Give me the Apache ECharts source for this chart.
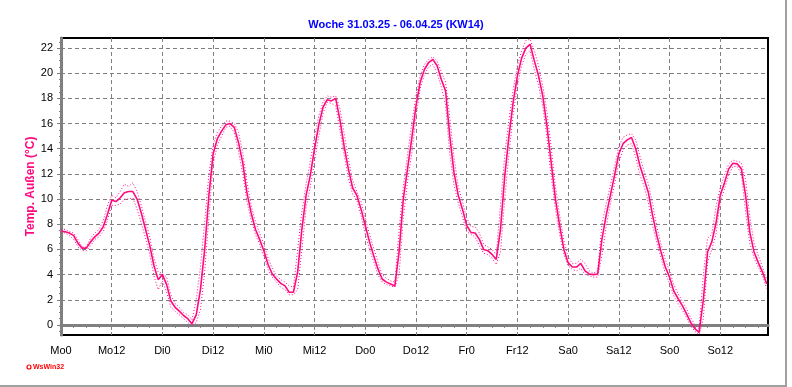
<!DOCTYPE html>
<html>
<head>
<meta charset="utf-8">
<script src="https://cdn.jsdelivr.net/npm/echarts@6/dist/echarts.min.js"></script>
<style>
  html, body { margin: 0; padding: 0; background: #fff; }
  #chart { width: 792px; height: 387px; }
</style>
</head>
<body>
<div id="chart"></div>
<script>
  // hourly values, Mo 0:00 .. So 23:00
  var tempMean = [
    7.45, 7.4, 7.3, 7.1, 6.5, 6.1, 6.1, 6.6, 7.0, 7.3, 7.8, 8.8,
    9.9, 9.8, 10.1, 10.5, 10.6, 10.6, 10.0, 8.9, 7.6, 6.3, 4.7, 3.6,
    4.0, 3.2, 1.9, 1.4, 1.1, 0.75, 0.5, 0.1, 0.8, 2.8, 6.0, 10.3,
    13.6, 14.8, 15.4, 15.9, 16.0, 15.7, 14.5, 12.9, 10.5, 8.9, 7.6, 6.8,
    5.9, 4.8, 4.05, 3.65, 3.3, 3.1, 2.6, 2.6, 4.2, 7.6, 10.3, 11.9,
    14.0, 15.9, 17.3, 17.9, 17.8, 18.0, 16.3, 14.2, 12.4, 10.9, 10.3, 9.2,
    7.9, 6.6, 5.5, 4.45, 3.65, 3.4, 3.25, 3.1, 5.8, 10.0, 12.4, 14.8,
    17.4, 19.3, 20.3, 20.85, 21.1, 20.6, 19.5, 18.6, 15.0, 12.1, 10.3, 9.2,
    7.9, 7.35, 7.3, 6.8, 6.0, 5.9, 5.6, 5.2, 7.6, 11.8, 15.0, 17.7,
    19.8, 21.2, 22.0, 22.3, 21.0, 19.8, 18.2, 15.8, 12.9, 10.0, 7.9, 6.0,
    4.95, 4.6, 4.6, 4.9, 4.3, 4.05, 4.0, 4.05, 6.8, 8.7, 10.3, 11.9,
    13.6, 14.4, 14.7, 14.9, 14.0, 12.65, 11.6, 10.5, 8.7, 7.1, 5.8, 4.6,
    3.8, 2.7, 2.1, 1.55, 0.9, 0.2, -0.3, -0.6, 2.0, 5.8, 6.6, 8.1,
    10.3, 11.3, 12.4, 12.85, 12.8, 12.4, 10.3, 7.35, 5.8, 4.95, 4.2, 3.25
  ];
  var tempMax = [
    7.6, 7.6, 7.4, 7.3, 6.8, 6.2, 6.2, 6.9, 7.3, 7.6, 8.3, 9.5,
    10.3, 10.1, 10.6, 11.2, 11.0, 11.3, 10.6, 9.5, 8.2, 7.0, 5.3, 4.2,
    4.1, 3.8, 2.4, 1.7, 1.4, 1.0, 0.8, 0.4, 2.0, 4.6, 8.2, 12.0,
    14.3, 15.3, 15.8, 16.2, 16.2, 16.0, 15.3, 13.7, 11.4, 9.5, 8.2, 7.3,
    6.4, 5.3, 4.5, 3.9, 3.6, 3.4, 3.1, 3.0, 6.0, 9.0, 11.2, 13.0,
    15.0, 16.6, 17.7, 18.2, 18.1, 18.2, 17.2, 15.2, 13.2, 11.5, 10.6, 9.8,
    8.5, 7.2, 6.1, 5.0, 4.0, 3.7, 3.5, 3.4, 7.5, 11.0, 13.5, 16.0,
    18.2, 19.8, 20.7, 21.1, 21.3, 21.0, 20.1, 19.3, 16.5, 13.3, 11.0, 9.8,
    8.5, 7.8, 7.8, 7.3, 6.4, 6.2, 6.0, 5.6, 9.5, 13.5, 16.3, 18.7,
    20.6, 21.8, 22.6, 22.7, 21.8, 20.6, 19.0, 16.9, 14.1, 11.0, 8.7, 6.7,
    5.4, 4.9, 4.9, 5.2, 4.9, 4.3, 4.1, 4.3, 8.0, 9.6, 11.1, 12.6,
    14.2, 14.9, 15.1, 15.2, 14.7, 13.4, 12.2, 11.2, 9.6, 7.8, 6.4, 5.2,
    4.3, 3.2, 2.5, 1.9, 1.3, 0.6, 0.0, -0.3, 4.0, 6.9, 7.2, 9.4,
    10.9, 11.9, 12.8, 13.1, 13.0, 12.9, 11.5, 8.6, 6.5, 5.5, 4.6, 3.6
  ];
  var tempMin = [
    7.4, 7.3, 7.1, 6.8, 6.2, 5.9, 5.9, 6.3, 6.8, 7.0, 7.4, 8.3,
    9.5, 9.5, 9.6, 10.0, 10.0, 10.1, 9.2, 8.1, 6.9, 5.6, 3.9, 2.8,
    3.5, 2.6, 1.4, 1.1, 0.8, 0.5, 0.2, -0.1, 0.2, 1.2, 4.2, 8.6,
    12.8, 14.3, 15.0, 15.7, 15.8, 15.3, 13.8, 12.0, 9.8, 8.3, 7.2, 6.4,
    5.4, 4.4, 3.8, 3.4, 3.0, 2.8, 2.4, 2.4, 2.8, 6.0, 9.3, 11.0,
    13.0, 15.0, 16.8, 17.7, 17.6, 17.4, 15.5, 13.5, 11.7, 10.4, 9.9, 8.7,
    7.2, 6.0, 5.0, 4.0, 3.4, 3.2, 3.1, 3.0, 4.0, 8.5, 11.4, 13.6,
    16.5, 18.8, 19.9, 20.5, 20.7, 20.0, 18.9, 17.5, 13.6, 11.1, 9.7, 8.6,
    7.4, 7.2, 7.0, 6.3, 5.7, 5.6, 5.3, 4.8, 5.8, 10.0, 13.6, 16.7,
    19.0, 20.6, 21.5, 21.8, 20.3, 19.0, 17.4, 14.8, 11.8, 9.2, 7.2, 5.6,
    4.7, 4.4, 4.3, 4.5, 4.0, 3.9, 3.8, 3.8, 5.5, 7.8, 9.6, 11.2,
    12.9, 13.9, 14.3, 14.4, 13.3, 11.9, 11.0, 9.7, 7.9, 6.5, 5.3, 4.1,
    3.3, 2.3, 1.7, 1.2, 0.6, -0.1, -0.5, -0.8, 0.5, 5.0, 6.0, 7.2,
    9.8, 10.8, 11.9, 12.6, 12.6, 12.0, 9.0, 6.5, 5.3, 4.6, 3.9, 2.9
  ];
  var xTickHours = [0, 12, 24, 36, 48, 60, 72, 84, 96, 108, 120, 132, 144, 156];
  var xTickLabels = ['Mo0', 'Mo12', 'Di0', 'Di12', 'Mi0', 'Mi12', 'Do0', 'Do12', 'Fr0', 'Fr12', 'Sa0', 'Sa12', 'So0', 'So12'];
  var xMinorHours = [3, 6, 9, 15, 18, 21, 27, 30, 33, 39, 42, 45, 51, 54, 57, 63, 66, 69, 75, 78, 81, 87, 90, 93,
    99, 102, 105, 111, 114, 117, 123, 126, 129, 135, 138, 141, 147, 150, 153, 159, 162, 165];
  var yTicks = [0, 2, 4, 6, 8, 10, 12, 14, 16, 18, 20, 22];
  var yMinor = [-0.5, 0.5, 1, 1.5, 2.5, 3, 3.5, 4.5, 5, 5.5, 6.5, 7, 7.5, 8.5, 9, 9.5, 10.5, 11, 11.5,
    12.5, 13, 13.5, 14.5, 15, 15.5, 16.5, 17, 17.5, 18.5, 19, 19.5, 20.5, 21, 21.5, 22.5];

  var pink = '#ff0a80';
  var font = '"Liberation Sans", Arial, sans-serif';

  function toPairs(arr) {
    return arr.map(function (v, i) { return [i, v]; });
  }

  var myChart = echarts.init(document.getElementById('chart'), null, { renderer: 'canvas' });

  var option = {
    animation: false,
    backgroundColor: '#fff',
    title: {
      text: 'Woche 31.03.25 - 06.04.25 (KW14)',
      left: 'center',
      top: 14,
      textStyle: { color: '#0000ff', fontSize: 11, fontWeight: 'bold', fontFamily: font }
    },
    grid: {
      left: 61, right: 24, top: 38, bottom: 52,
      show: true, borderColor: '#000', borderWidth: 2
    },
    xAxis: [
      {
        type: 'value', min: 0, max: 167.3,
        axisLine: { show: true, lineStyle: { color: '#808080', width: 3 } },
        axisTick: { show: true, customValues: xTickHours, length: 5, lineStyle: { color: '#808080', width: 1 } },
        axisLabel: {
          customValues: xTickHours, margin: 10, color: '#000', fontSize: 11, fontFamily: font,
          formatter: function (v) { return xTickLabels[xTickHours.indexOf(Math.round(v))] || ''; }
        },
        splitLine: { show: true, lineStyle: { color: '#808080', type: [4, 3], width: 1 } }
      },
      {
        type: 'value', min: 0, max: 167.3, position: 'bottom',
        axisLine: { show: false },
        axisTick: { show: true, customValues: xMinorHours, length: 3, lineStyle: { color: '#808080' } },
        axisLabel: { show: false },
        splitLine: { show: false }
      }
    ],
    yAxis: [
      {
        type: 'value', min: -0.8, max: 22.8,
        name: 'Temp. Außen (°C)',
        nameLocation: 'middle',
        nameGap: 24,
        nameMoveOverlap: false,
        nameTextStyle: { color: pink, fontSize: 12, fontWeight: 'bold', fontFamily: font },
        axisLine: { show: true, lineStyle: { color: '#808080', width: 3 } },
        axisTick: { show: true, customValues: yTicks, length: 4, lineStyle: { color: '#808080' } },
        axisLabel: { customValues: yTicks, margin: 8, color: '#000', fontSize: 11, fontFamily: font },
        splitLine: { show: true, lineStyle: { color: '#808080', type: [4, 3], width: 1 } }
      },
      {
        type: 'value', min: -0.8, max: 22.8, position: 'left',
        axisLine: { show: false },
        axisTick: { show: true, customValues: yMinor, length: 2, lineStyle: { color: '#808080' } },
        axisLabel: { show: false },
        splitLine: { show: false }
      }
    ],
    series: [
      {
        name: 'Max', type: 'line', data: toPairs(tempMax), symbol: 'none',
        lineStyle: { color: pink, width: 1, type: [1, 2] }, z: 3
      },
      {
        name: 'Min', type: 'line', data: toPairs(tempMin), symbol: 'none',
        lineStyle: { color: pink, width: 1, type: [1, 2] }, z: 3
      },
      {
        name: 'Temp', type: 'line', data: toPairs(tempMean), symbol: 'none',
        lineStyle: { color: pink, width: 1.6 }, z: 4
      }
    ],
    graphic: [
      { type: 'circle', shape: { cx: 29, cy: 367, r: 2 }, style: { fill: '#fff', stroke: '#ff0000', lineWidth: 1.2 } },
      { type: 'text', left: 33, top: 364, style: { text: 'WsWin32', fill: '#ff0000', font: 'bold 7px ' + font } },
      { type: 'line', shape: { x1: 0, y1: 386, x2: 787, y2: 386 }, style: { stroke: '#a0a0a0', lineWidth: 2 } },
      { type: 'line', shape: { x1: 786, y1: 0, x2: 786, y2: 387 }, style: { stroke: '#a0a0a0', lineWidth: 2 } }
    ]
  };

  myChart.setOption(option);
</script>
</body>
</html>
